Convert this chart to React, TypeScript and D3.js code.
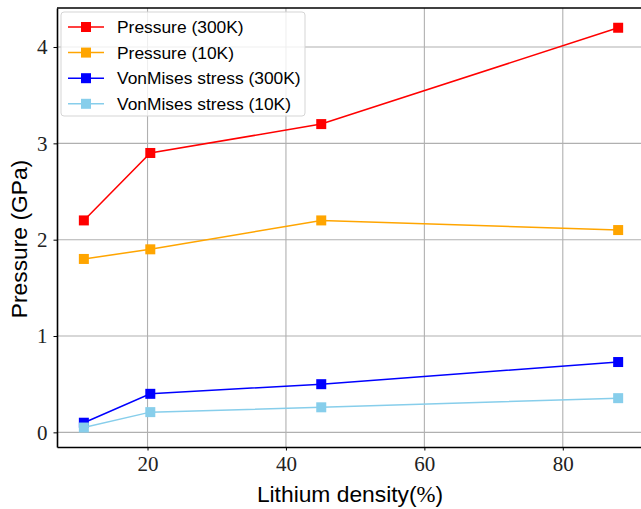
import React, { useRef, useEffect } from 'react';
import * as d3 from 'd3';

const density = [10.8, 20.4, 45.1, 88.0];
const pressure300 = [2.2, 2.9, 3.2, 4.2];
const pressure10 = [1.8, 1.9, 2.2, 2.1];
const vonMises300 = [0.1, 0.4, 0.5, 0.73];
const vonMises10 = [0.05, 0.21, 0.26, 0.355];

const seriesNames = ['Pressure (300K)', 'Pressure (10K)', 'VonMises stress (300K)', 'VonMises stress (10K)'];
const seriesColors = ['#ff0000', '#ffa500', '#0000ff', '#87ceeb'];
const seriesValues = [pressure300, pressure10, vonMises300, vonMises10];

const xTicks = [20, 40, 60, 80];
const yTicks = [0, 1, 2, 3, 4];

const W = 641;
const H = 509;

const App = () => {
  const svgRef = useRef<SVGSVGElement>(null);

  useEffect(() => {
    const svg = d3.select(svgRef.current);
    svg.selectAll('*').remove();

    const margin = { top: 8, right: 0, bottom: 62, left: 57 };
    const innerWidth = W - margin.left - margin.right;
    const innerHeight = H - margin.top - margin.bottom;

    // x: 6.92..91.3, y: -0.152..4.41
    const xScale = d3.scaleLinear().domain([6.92, 91.3]).range([0, innerWidth]);
    const yScale = d3.scaleLinear().domain([-0.152, 4.405]).range([innerHeight, 0]);

    const g = svg.append('g').attr('transform', `translate(${margin.left},${margin.top})`);

    svg.append('defs').append('clipPath').attr('id', 'plotclip')
      .append('rect').attr('width', innerWidth).attr('height', innerHeight);

    // grid
    const grid = g.append('g').attr('clip-path', 'url(#plotclip)');
    grid.selectAll('.vgrid').data(xTicks).enter().append('line')
      .attr('x1', d => xScale(d)).attr('x2', d => xScale(d))
      .attr('y1', 0).attr('y2', innerHeight)
      .attr('stroke', '#b0b0b0').attr('stroke-width', 1.1);
    grid.selectAll('.hgrid').data(yTicks).enter().append('line')
      .attr('y1', d => yScale(d)).attr('y2', d => yScale(d))
      .attr('x1', 0).attr('x2', innerWidth)
      .attr('stroke', '#b0b0b0').attr('stroke-width', 1.1);

    // series lines and markers
    const line = d3.line<number>()
      .x((d, i) => xScale(density[i]))
      .y(d => yScale(d));

    const plot = g.append('g').attr('clip-path', 'url(#plotclip)');
    seriesValues.forEach((vals, si) => {
      plot.append('path')
        .datum(vals)
        .attr('fill', 'none')
        .attr('stroke', seriesColors[si])
        .attr('stroke-width', 1.5)
        .attr('d', line);
      plot.selectAll(`.m${si}`).data(vals).enter().append('rect')
        .attr('x', (d, i) => xScale(density[i]) - 5)
        .attr('y', d => yScale(d) - 5)
        .attr('width', 10).attr('height', 10)
        .attr('fill', seriesColors[si]);
    });

    // axes
    const xAxis = g.append('g')
      .attr('transform', `translate(0,${innerHeight})`)
      .call(d3.axisBottom(xScale).tickValues(xTicks).tickFormat(d3.format('d')).tickSize(3.5).tickSizeOuter(0).tickPadding(6));
    xAxis.select('.domain').attr('stroke', 'black').attr('stroke-width', 1.6);
    xAxis.selectAll('text')
      .attr('font-family', '"Liberation Serif", serif')
      .attr('font-size', 21)
      .attr('fill', '#222');

    const yAxis = g.append('g')
      .call(d3.axisLeft(yScale).tickValues(yTicks).tickFormat(d3.format('d')).tickSize(3.5).tickSizeOuter(0).tickPadding(6));
    yAxis.select('.domain').attr('stroke', 'black').attr('stroke-width', 1.6);
    yAxis.selectAll('text')
      .attr('font-family', '"Liberation Serif", serif')
      .attr('font-size', 21)
      .attr('fill', '#222');

    g.append('line')
      .attr('x1', 0).attr('x2', innerWidth).attr('y1', 0).attr('y2', 0)
      .attr('stroke', 'black').attr('stroke-width', 1.6);

    // axis labels
    svg.append('text')
      .attr('transform', `translate(27,239) rotate(-90)`)
      .attr('text-anchor', 'middle')
      .attr('font-family', '"Liberation Sans", Arial, sans-serif')
      .attr('font-size', 22.8)
      .attr('fill', 'black')
      .text('Pressure (GPa)');

    const xl = svg.append('text')
      .attr('x', 350)
      .attr('y', 501.5)
      .attr('text-anchor', 'middle')
      .attr('font-family', '"Liberation Sans", Arial, sans-serif')
      .attr('font-size', 22.8)
      .attr('fill', 'black');
    xl.append('tspan').text('Lithium density(');
    xl.append('tspan').attr('font-family', '"Liberation Serif", serif').text('%');
    xl.append('tspan').text(')');

    // legend
    const legend = g.append('g').attr('transform', 'translate(4,4)');
    legend.append('rect')
      .attr('width', 244).attr('height', 104)
      .attr('rx', 3)
      .attr('fill', 'white').attr('fill-opacity', 0.8)
      .attr('stroke', '#d5d5d5').attr('stroke-width', 1);

    const items = legend.selectAll('.legend-item')
      .data(seriesNames)
      .enter()
      .append('g')
      .attr('transform', (d, i) => `translate(0,${15 + i * 25.6})`);
    items.append('line')
      .attr('x1', 7).attr('x2', 43).attr('y1', 0).attr('y2', 0)
      .attr('stroke', (d, i) => seriesColors[i]).attr('stroke-width', 1.5);
    items.append('rect')
      .attr('x', 20).attr('y', -5).attr('width', 10).attr('height', 10)
      .attr('fill', (d, i) => seriesColors[i]);
    items.append('text')
      .attr('x', 56).attr('y', 0).attr('dy', '0.36em')
      .attr('font-family', '"Liberation Sans", Arial, sans-serif')
      .attr('font-size', 17.4)
      .attr('fill', 'black')
      .text(d => d);
  }, []);

  return (
    <svg ref={svgRef} width={W} height={H} style={{ position: 'absolute', left: 0, top: 0, background: 'white' }} />
  );
};

export default App;
